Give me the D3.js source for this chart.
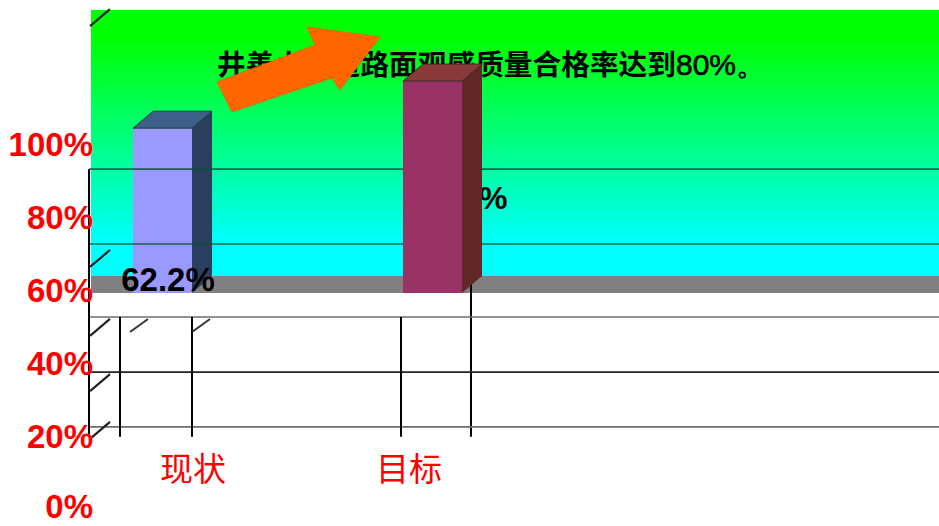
<!DOCTYPE html>
<html>
<head>
<meta charset="utf-8">
<script src="https://cdn.jsdelivr.net/npm/d3@7"></script>
<style>
body { margin: 0; background: #fff; }
svg { display: block; }
</style>
</head>
<body>
<div class="main"></div>
<script>
//data
var categories = ["现状", "目标"];
var values = [62.2, 80];
var valueLabels = ["62.2%", "80%"];
var tickValues = [0, 20, 40, 60, 80, 100];
var tickLabels = ["0%", "20%", "40%", "60%", "80%", "100%"];
var backGrid = [96.4, 75.9];          //lines on the green wall
var frontGrid = [55.9, 40.8, 25.8];   //lines on the white part
var slashTicks = [135.6, 69.6, 50.7, 35.6, 22.5];
var titleMain = "井善小区道路面观感质量合格率达到";
var titleTail = "80%。";

var frontColors = ["#9999ff", "#993366"];
var topColors = ["#3d5f8a", "#8b3a3a"];
var sideColors = ["#2a3f5e", "#622828"];

var width = 939, height = 526;
var depthX = 20, depthY = -17;//3d offset
var barW = 59;

var svg = d3.select(".main").append("svg")
	.attr("width", width)
	.attr("height", height);

//scales
var yLabel = d3.scaleLinear().domain([0, 100]).range([521, 156]);
var yBar = d3.scaleLinear().domain([0, 100]).range([293, 28]);
var xBar = d3.scalePoint().domain(categories).range([133, 403]);
var xFront = d3.scalePoint().domain(categories).range([120, 401]);
var xName = d3.scalePoint().domain(categories).range([193, 409]);
var axisX = 89;

//gradient wall
var defs = svg.append("defs");
var grad = defs.append("linearGradient")
	.attr("id", "wall")
	.attr("x1", 0).attr("y1", 0).attr("x2", 0).attr("y2", 1);
grad.append("stop").attr("offset", "0.1").attr("stop-color", "#00ff00");
grad.append("stop").attr("offset", "0.88").attr("stop-color", "#00ffff");

svg.append("rect")
	.attr("x", axisX + 2)
	.attr("y", yBar(106.8))
	.attr("width", width - axisX - 2)
	.attr("height", yBar(0) + depthY - yBar(106.8))
	.style("fill", "url(#wall)");
//floor
svg.append("rect")
	.attr("x", axisX + 2)
	.attr("y", yBar(0) + depthY)
	.attr("width", width - axisX - 2)
	.attr("height", -depthY)
	.style("fill", "#808080");

//title
var title = svg.append("text")
	.attr("x", 217)
	.attr("y", 75)
	.style("font-family", "'Noto Sans CJK SC', sans-serif")
	.style("font-weight", "bold")
	.style("font-size", "28.7px")
	.style("fill", "#000");
title.append("tspan").text(titleMain);
title.append("tspan")
	.style("font-family", "'Liberation Sans', Arial, sans-serif")
	.style("font-weight", "normal")
	.style("font-size", "30px")
	.style("stroke", "#000")
	.style("stroke-width", 0.6)
	.text(titleTail);

//value label of 2nd bar sits behind the bar
svg.append("text")
	.attr("x", xBar(categories[1]) + barW / 2 + 43)
	.attr("y", yLabel(values[1]) - 20)
	.attr("text-anchor", "middle")
	.style("font-family", "'Liberation Sans', Arial, sans-serif")
	.style("font-weight", "bold")
	.style("font-size", "32px")
	.text(valueLabels[1]);

//arrow
var arrowPts = [[217, 82], [315, 45], [307, 27], [380, 37], [340, 90], [332, 78], [232, 112]];
svg.append("polygon")
	.attr("points", arrowPts.map(function(p) { return p.join(","); }).join(" "))
	.style("fill", "#ff6600")
	.style("stroke", "#e86010")
	.style("stroke-width", 0.8);

function drawBar(i) {
	var c = categories[i];
	var x0 = xBar(c), x1 = x0 + barW;
	var yt = yBar(values[i]), yb = yBar(0);
	var g = svg.append("g").attr("class", "bar");
	g.append("rect")
		.attr("x", x0).attr("y", yt)
		.attr("width", barW).attr("height", yb - yt)
		.style("fill", frontColors[i]);
	g.append("polygon")
		.attr("points", [[x1, yt], [x1 + depthX, yt + depthY], [x1 + depthX, yb + depthY], [x1, yb]].join(" "))
		.style("fill", sideColors[i]);
	g.append("polygon")
		.attr("points", [[x0, yt], [x0 + depthX, yt + depthY], [x1 + depthX, yt + depthY], [x1, yt]].join(" "))
		.style("fill", topColors[i])
		.style("stroke", "#1d2d1d")
		.style("stroke-width", 0.8);
}

drawBar(0);

//back grid lines (over 1st bar, under 2nd)
svg.selectAll(".back-grid")
	.data(backGrid)
	.enter().append("line")
	.attr("class", "back-grid")
	.attr("x1", axisX).attr("x2", width)
	.attr("y1", function(d) { return yLabel(d); })
	.attr("y2", function(d) { return yLabel(d); })
	.style("stroke", "#0b4d3a")
	.style("stroke-opacity", 0.85)
	.style("stroke-width", 1.6);

//right divider line behind 2nd bar
svg.append("line")
	.attr("x1", xFront(categories[1]) + 70).attr("x2", xFront(categories[1]) + 70)
	.attr("y1", yLabel(backGrid[0])).attr("y2", yLabel(frontGrid[2]) + 10)
	.style("stroke", "#000").style("stroke-width", 2);

drawBar(1);

//value label of 1st bar
svg.append("text")
	.attr("x", xBar(categories[0]) + 35)
	.attr("y", yBar(0) - 2)
	.attr("text-anchor", "middle")
	.style("font-family", "'Liberation Sans', Arial, sans-serif")
	.style("font-weight", "bold")
	.style("font-size", "33px")
	.text(valueLabels[0]);

//front grid
svg.selectAll(".front-grid")
	.data(frontGrid)
	.enter().append("line")
	.attr("class", "front-grid")
	.attr("x1", axisX).attr("x2", width)
	.attr("y1", function(d) { return yLabel(d); })
	.attr("y2", function(d) { return yLabel(d); })
	.style("stroke", function(d, i) { return i == 1 ? "#222" : "#6e6e6e"; })
	.style("stroke-width", 1.6);

//category dividers
var dividers = [];
categories.forEach(function(c, i) {
	dividers.push(xFront(c));
	if (i == 0) dividers.push(xFront(c) + 72);
});
svg.selectAll(".divider")
	.data(dividers)
	.enter().append("line")
	.attr("class", "divider")
	.attr("x1", function(d) { return d; }).attr("x2", function(d) { return d; })
	.attr("y1", yLabel(frontGrid[0])).attr("y2", yLabel(frontGrid[2]) + 10)
	.style("stroke", "#000").style("stroke-width", 2);

//left axis
svg.append("line")
	.attr("x1", axisX).attr("x2", axisX)
	.attr("y1", yLabel(backGrid[0])).attr("y2", yLabel(frontGrid[2]) + 10)
	.style("stroke", "#000").style("stroke-width", 2);

//slanted 3d ticks
svg.selectAll(".slash")
	.data(slashTicks)
	.enter().append("line")
	.attr("class", "slash")
	.attr("x1", axisX + 1).attr("x2", axisX + 1 + depthX)
	.attr("y1", function(d) { return yLabel(d); })
	.attr("y2", function(d) { return yLabel(d) + depthY; })
	.style("stroke", "#222").style("stroke-width", 2.2);
[xFront(categories[0]) + 10, xFront(categories[0]) + 72].forEach(function(x) {
	svg.append("line")
		.attr("x1", x).attr("x2", x + 18)
		.attr("y1", yLabel(50.7) - 4).attr("y2", yLabel(50.7) - 17)
		.style("stroke", "#333").style("stroke-width", 2);
});

//y labels (bottom one nudged so it stays inside the frame)
svg.selectAll(".y-label")
	.data(tickValues)
	.enter().append("text")
	.attr("class", "y-label")
	.attr("x", 93)
	.attr("y", function(d) { return d == 0 ? yLabel(d) - 3 : yLabel(d); })
	.attr("text-anchor", "end")
	.style("font-family", "'Liberation Sans', Arial, sans-serif")
	.style("font-weight", "bold")
	.style("font-size", "33px")
	.style("fill", "#ff0000")
	.text(function(d, i) { return tickLabels[i]; });

//category names
svg.selectAll(".x-label")
	.data(categories)
	.enter().append("text")
	.attr("class", "x-label")
	.attr("x", function(d) { return xName(d); })
	.attr("y", 481)
	.attr("text-anchor", "middle")
	.style("font-family", "'Noto Sans CJK SC', sans-serif")
	.style("font-size", "33px")
	.style("fill", "#ff0000")
	.text(function(d) { return d; });
</script>
</body>
</html>
